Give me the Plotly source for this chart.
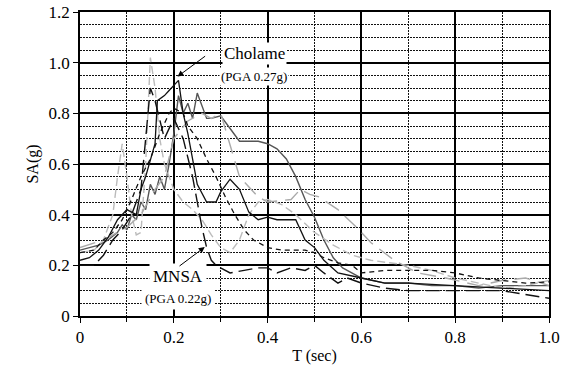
import plotly.graph_objects as go

# ---- data ----
t1 = [0, .02, .04, .06, .08, .09, .10, .11, .12, .13, .14, .15, .16, .17, .18, .19, .20, .21, .22, .23, .24, .25, .26, .27, .28, .30, .32, .34, .36, .38, .40, .42, .44, .46, .48, .50, .52, .54, .56, .60, .65, .70, .75, .80, .85, .90, .95, 1.0]
sa1 = [.26, .27, .28, .30, .33, .36, .34, .40, .38, .45, .42, .52, .48, .55, .50, .60, .72, .87, .80, .84, .78, .88, .83, .78, .78, .79, .74, .69, .69, .69, .68, .66, .62, .55, .46, .39, .30, .23, .19, .15, .13, .13, .12, .12, .11, .12, .12, .12]

t2 = [0, .03, .05, .07, .08, .09, .10, .11, .12, .13, .14, .15, .16, .17, .18, .19, .20, .22, .24, .26, .28, .30, .32, .34, .36, .38, .40, .43, .46, .50, .54, .58, .62, .66, .70, .75, .80, .85, .90, .95, 1.0]
sa2 = [.25, .26, .30, .40, .55, .68, .55, .40, .32, .33, .60, 1.02, .90, .70, .60, .55, .50, .45, .42, .38, .32, .27, .25, .30, .40, .45, .46, .44, .40, .33, .28, .24, .22, .21, .20, .18, .15, .13, .11, .12, .14]

t3 = [0, .02, .04, .06, .08, .10, .12, .13, .14, .15, .16, .165, .18, .19, .21, .22, .23, .24, .25, .27, .29, .30, .32, .34, .36, .38, .40, .42, .44, .46, .48, .50, .52, .55, .60, .65, .70, .80, .90, 1.0]
sa3 = [.22, .23, .26, .31, .38, .42, .40, .50, .55, .62, .68, .85, .87, .89, .93, .80, .72, .62, .52, .45, .45, .49, .54, .50, .41, .38, .39, .38, .38, .38, .30, .27, .22, .17, .15, .13, .13, .12, .11, .10]

t4 = [0, .03, .05, .07, .09, .11, .13, .15, .16, .18, .20, .22, .24, .25, .26, .27, .28, .29, .30, .32, .35, .38, .40, .42, .45, .48, .50, .52, .55, .57, .60, .65, .70, .80, .90, 1.0]
sa4 = [.20, .20, .24, .30, .34, .40, .50, .90, .85, .70, .78, .70, .55, .45, .35, .27, .22, .20, .19, .17, .18, .19, .19, .17, .19, .18, .20, .17, .13, .15, .13, .11, .10, .10, .10, .07]

t5 = [0, .03, .05, .07, .09, .11, .13, .15, .17, .19, .20, .22, .23, .25, .27, .29, .31, .33, .35, .37, .40, .43, .46, .48, .50, .52, .55, .58, .60, .65, .70, .75, .80, .85, .90, .95, 1.0]
sa5 = [.25, .26, .30, .33, .38, .46, .55, .62, .72, .80, .82, .80, .75, .70, .62, .55, .47, .40, .34, .30, .27, .26, .26, .26, .25, .23, .21, .20, .17, .18, .18, .18, .17, .15, .14, .13, .135]

t6 = [0, .05, .10, .13, .16, .18, .20, .23, .26, .28, .30, .34, .38, .40, .45, .47, .49, .51, .55, .59, .62, .67, .72, .78, .85, .90, .95, 1.0]
sa6 = [.27, .30, .35, .40, .50, .55, .70, .77, .80, .78, .80, .55, .47, .45, .46, .50, .48, .47, .42, .35, .29, .22, .17, .15, .12, .14, .15, .12]

series = [
    (t1, sa1, "#555555", 1.4, "solid"),
    (t2, sa2, "#bbbbbb", 1.4, "8px,4px"),
    (t6, sa6, "#aaaaaa", 1.4, "16px,8px"),
    (t5, sa5, "#111111", 1.3, "5px,4px"),
    (t4, sa4, "#111111", 1.4, "14px,6px"),
    (t3, sa3, "#111111", 1.3, "solid"),
]

x_ticks = [0, 0.2, 0.4, 0.6, 0.8, 1.0]
x_tick_text = ["0", "0.2", "0.4", "0.6", "0.8", "1.0"]
y_ticks = [0, 0.2, 0.4, 0.6, 0.8, 1.0, 1.2]
y_tick_text = ["0", "0.2", "0.4", "0.6", "0.8", "1.0", "1.2"]

fig = go.Figure()
for t, sa, col, w, dash in series:
    fig.add_trace(go.Scatter(x=t, y=sa, mode="lines",
                             line=dict(color=col, width=w, dash=dash),
                             showlegend=False, hoverinfo="skip"))

SERIF = "Liberation Serif"

fig.update_layout(
    width=561, height=379,
    margin=dict(l=80, r=12, t=12, b=63, autoexpand=False),
    paper_bgcolor="white", plot_bgcolor="white",
    font=dict(family=SERIF, size=17, color="black"),
    showlegend=False,
)
fig.update_xaxes(
    range=[0, 1.0], tickvals=x_ticks, ticktext=x_tick_text,
    showgrid=True, gridcolor="black", gridwidth=1.6,
    minor=dict(dtick=0.1, showgrid=True, gridcolor="#111", gridwidth=1,
               griddash="2px,1px", ticks="outside", ticklen=4, tickcolor="black"),
    ticks="outside", ticklen=5, tickcolor="black", tickwidth=1.3,
    showline=True, linecolor="black", linewidth=1.6, mirror=True,
    zeroline=False, automargin=False,
    title=dict(text="T (sec)", font=dict(family=SERIF, size=16), standoff=4),
    tickfont=dict(family=SERIF, size=17),
)
fig.update_yaxes(
    range=[0, 1.2], tickvals=y_ticks, ticktext=y_tick_text,
    showgrid=True, gridcolor="black", gridwidth=1.6,
    minor=dict(dtick=0.05, showgrid=True, gridcolor="#111", gridwidth=1,
               griddash="2px,1px"),
    ticks="outside", ticklen=5, tickcolor="black", tickwidth=1.3,
    showline=True, linecolor="black", linewidth=1.6, mirror=True,
    zeroline=False, automargin=False,
    title=dict(text="SA(g)", font=dict(family=SERIF, size=16), standoff=6),
    tickfont=dict(family=SERIF, size=17),
)

# annotations
fig.add_annotation(x=0.372, y=1.035, xref="x", yref="y", text="Cholame",
                   showarrow=False, font=dict(family=SERIF, size=17, color="black"),
                   bgcolor="white", borderpad=1)
fig.add_annotation(x=0.37, y=0.945, xref="x", yref="y", text="(PGA 0.27g)",
                   showarrow=False, font=dict(family=SERIF, size=13, color="black"),
                   bgcolor="white", borderpad=1)
fig.add_annotation(x=0.208, y=0.945, ax=0.27, ay=1.03, xref="x", yref="y",
                   axref="x", ayref="y", text="", showarrow=True,
                   arrowhead=2, arrowsize=1.2, arrowwidth=1, arrowcolor="black")

fig.add_annotation(x=0.21, y=0.155, xref="x", yref="y", text="MNSA",
                   showarrow=False, font=dict(family=SERIF, size=17, color="black"),
                   bgcolor="white", borderpad=3)
fig.add_annotation(x=0.21, y=0.07, xref="x", yref="y", text="(PGA 0.22g)",
                   showarrow=False, font=dict(family=SERIF, size=13, color="black"),
                   bgcolor="white", borderpad=3)
fig.add_annotation(x=0.266, y=0.272, ax=0.209, ay=0.193, xref="x", yref="y",
                   axref="x", ayref="y", text="", showarrow=True,
                   arrowhead=2, arrowsize=1.2, arrowwidth=1, arrowcolor="black")

fig.write_html("out.html")
